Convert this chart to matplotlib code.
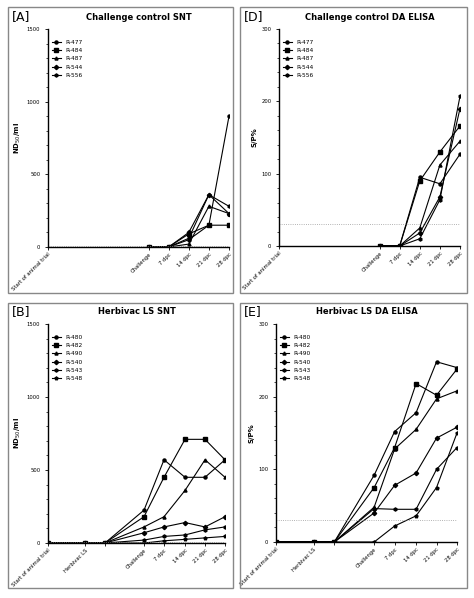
import matplotlib
matplotlib.use("Agg")
import matplotlib.pyplot as plt
from matplotlib.patches import Rectangle
from matplotlib.ticker import MultipleLocator

# ---- data ----
ctrl_ids = ["R-477", "R-484", "R-487", "R-544", "R-556"]
ctrl_labels = ["Start of animal trial", "Challenge", "7 dpc", "14 dpc", "21 dpc", "28 dpc"]
ctrl_pos = [0, 5, 6, 7, 8, 9]
ctrl_snt = [
    [0, 0, 50, 150, 900],
    [0, 0, 90, 150, 150],
    [0, 0, 20, 280, 230],
    [0, 0, 100, 360, 230],
    [0, 0, 60, 360, 280],
]
ctrl_elisa = [
    [0, 0, 95, 86, 127],
    [0, 0, 90, 130, 166],
    [0, 0, 25, 112, 145],
    [0, 0, 18, 68, 190],
    [0, 0, 10, 64, 207],
]
herb_ids = ["R-480", "R-482", "R-490", "R-540", "R-543", "R-548"]
herb_labels = ["Start of animal trial", "Herbivac LS", "", "Challenge", "7 dpc", "14 dpc", "21 dpc", "28 dpc"]
herb_pos = [0, 1.85, 2.85, 4.8, 5.8, 6.85, 7.85, 8.85]
herb_snt = [
    [0, 0, 0, 225, 570, 450, 450, 570],
    [0, 0, 0, 180, 450, 710, 710, 570],
    [0, 0, 0, 110, 180, 360, 570, 450],
    [0, 0, 0, 70, 110, 140, 110, 180],
    [0, 0, 0, 20, 45, 55, 90, 110],
    [0, 0, 0, 0, 15, 25, 35, 45],
]
herb_elisa = [
    [0, 0, 0, 92, 152, 178, 248, 240],
    [0, 0, 0, 75, 130, 218, 202, 238],
    [0, 0, 0, 48, 128, 155, 197, 208],
    [0, 0, 0, 40, 78, 95, 143, 158],
    [0, 0, 0, 46, 45, 45, 100, 130],
    [0, 0, 0, 0, 22, 36, 75, 150],
]
snt_cut = 10
elisa_cut = 30

markers = ["o", "s", "^", "D", "h", "p"]
W, H = 474, 598
fig = plt.figure(figsize=(W / 100, H / 100), dpi=100)

def box(x0, y0, x1, y1):
    fig.patches.append(Rectangle((x0 / W, 1 - y1 / H), (x1 - x0) / W, (y1 - y0) / H,
                                 transform=fig.transFigure, fill=False, ec="#888888", lw=1.0))

def panel(rect, letter, title, title_y, letter_xy, ids, labels, pos, data, start_idx,
          ymax, major, minor, ylabel, cut):
    l, t, r, b = rect
    ax = fig.add_axes([l / W, 1 - b / H, (r - l) / W, (b - t) / H])
    for i, (sid, vals) in enumerate(zip(ids, data)):
        ax.plot(pos[start_idx:], vals, color="black", lw=0.8, marker=markers[i], ms=2.2, label=sid)
    ax.axhline(cut, color="#999999", lw=0.6, ls=":")
    ax.set_xlim(pos[0], pos[-1])
    ax.set_ylim(0, ymax)
    ax.yaxis.set_major_locator(MultipleLocator(major))
    ax.yaxis.set_minor_locator(MultipleLocator(minor))
    ax.set_xticks(pos)
    ax.set_xticklabels(labels, rotation=45, ha="right", rotation_mode="anchor", fontsize=3.8)
    ax.tick_params(axis="y", labelsize=3.8, length=2, width=0.6)
    ax.tick_params(axis="y", which="minor", length=1.2, width=0.5)
    ax.tick_params(axis="x", length=2, width=0.6, pad=1.5)
    for s in ["top", "right"]:
        ax.spines[s].set_visible(False)
    for s in ["left", "bottom"]:
        ax.spines[s].set_linewidth(1.0)
    ax.set_ylabel(ylabel, fontsize=5, fontweight="bold", labelpad=3)
    ax.legend(loc="upper left", bbox_to_anchor=(0.0, 0.97), frameon=False, fontsize=4.2,
              handlelength=1.5, labelspacing=0.55, borderaxespad=0.3)
    fig.text((l + r) / 2 / W, 1 - title_y / H, title, fontsize=6, fontweight="bold", ha="center", va="center")
    fig.text(letter_xy[0] / W, 1 - letter_xy[1] / H, letter, fontsize=9, ha="left", va="center")

box(8, 7, 233, 293)
box(240, 7, 467, 293)
box(8, 303, 233, 588)
box(240, 303, 467, 588)

panel((48, 29, 229, 247), "[A]", "Challenge control SNT", 17, (12, 17), ctrl_ids, ctrl_labels,
      ctrl_pos, ctrl_snt, 1, 1500, 500, 100, "ND$_{50}$/ml", snt_cut)
panel((279, 29, 460, 246), "[D]", "Challenge control DA ELISA", 17, (244, 17), ctrl_ids, ctrl_labels,
      ctrl_pos, ctrl_elisa, 1, 300, 100, 20, "S/P%", elisa_cut)
panel((48, 324, 225, 543), "[B]", "Herbivac LS SNT", 312, (12, 312), herb_ids, herb_labels,
      herb_pos, herb_snt, 0, 1500, 500, 100, "ND$_{50}$/ml", snt_cut)
panel((276, 324, 457, 542), "[E]", "Herbivac LS DA ELISA", 312, (244, 312), herb_ids, herb_labels,
      herb_pos, herb_elisa, 0, 300, 100, 20, "S/P%", elisa_cut)

fig.savefig("out.png", dpi=100)
